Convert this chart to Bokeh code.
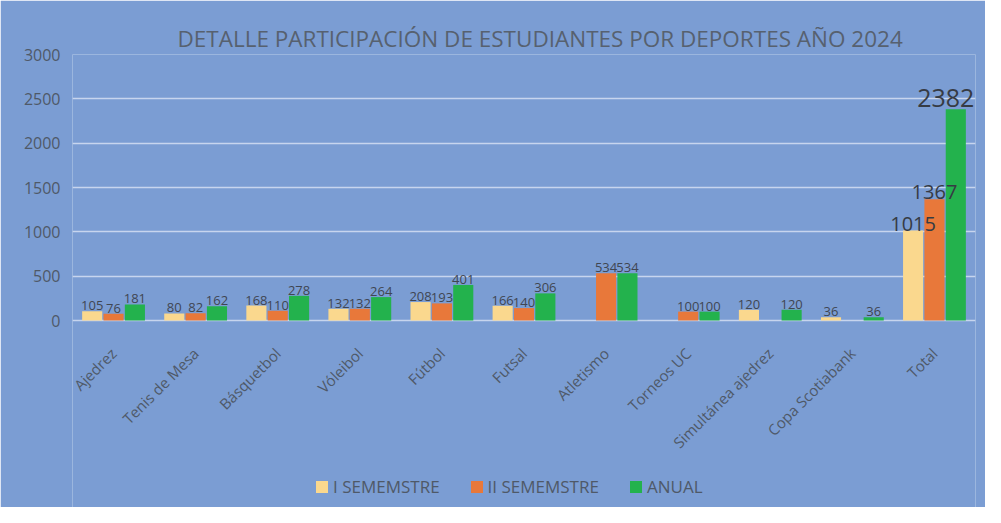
import math
from bokeh.plotting import figure
from bokeh.models import (ColumnDataSource, FactorRange, Legend, LegendItem, Range1d, FixedTicker)
from bokeh.transform import dodge
from bokeh.embed import file_html
from bokeh.resources import INLINE
from bokeh.core.properties import value

# ---- data ----
categories = ["Ajedrez", "Tenis de Mesa", "Básquetbol", "Vóleibol", "Fútbol", "Futsal",
              "Atletismo", "Torneos UC", "Simultánea ajedrez", "Copa Scotiabank", "Total"]
sem1 = [105, 80, 168, 132, 208, 166, None, None, 120, 36, 1015]
sem2 = [76, 82, 110, 132, 193, 140, 534, 100, None, None, 1367]
anual = [181, 162, 278, 264, 401, 306, 534, 100, 120, 36, 2382]
series_names = ["I SEMEMSTRE", "II SEMEMSTRE", "ANUAL"]
title_text = "DETALLE PARTICIPACIÓN DE ESTUDIANTES POR DEPORTES AÑO 2024"
y_ticks = [0, 500, 1000, 1500, 2000, 2500, 3000]
y_max = 3000

# ---- styles / layout ----
colors = ["#fad88e", "#e8783a", "#23b24d"]
offsets = [-0.26, 0.0, 0.26]
bar_width = 0.245
total_label_sizes = ["20px", "20px", "25px"]
total_label_xoff = [0, 0, -10]
total_label_yoff = [0, 0, -2]
y_bottom_space = -2109   # empty room under the baseline for the axis labels and legend
bg = "#7b9dd3"
text_col = "#4f5968"
font = "Open Sans"

p = figure(x_range=FactorRange(*categories, range_padding=0),
           y_range=Range1d(y_bottom_space, y_max),
           width=985, height=507, output_backend="svg", toolbar_location=None,
           min_border_left=72, min_border_right=10, min_border_top=54, min_border_bottom=0)
p.background_fill_color = bg
p.border_fill_color = bg
p.outline_line_color = None

p.title.text = title_text
p.title.text_font = font
p.title.text_font_size = "22.5px"
p.title.text_font_style = "normal"
p.title.text_color = "#57616f"
p.title.align = "left"
p.title.offset = 105
p.title.standoff = 2

renderers = []
parts = []
for i, vals in enumerate([sem1, sem2, anual]):
    xs = [c for c, v in zip(categories, vals) if v is not None]
    ys = [v for v in vals if v is not None]
    src = ColumnDataSource(dict(x=xs, top=ys))
    r = p.vbar(x=dodge("x", offsets[i], range=p.x_range), top="top", bottom=0, width=bar_width,
               source=src, fill_color=colors[i], line_color=None)
    renderers.append(r)
    parts.append((xs, ys))

for i, (xs, ys) in enumerate(parts):
    main = ColumnDataSource(dict(x=xs[:-1], y=ys[:-1], label=[str(v) for v in ys[:-1]]))
    tot = ColumnDataSource(dict(x=xs[-1:], y=ys[-1:], label=[str(v) for v in ys[-1:]]))
    p.text(x=dodge("x", offsets[i], range=p.x_range), y="y", text="label", source=main,
           text_align="center", text_baseline="bottom", y_offset=-1,
           text_font=value(font), text_font_size="13px", text_color="#404652")
    p.text(x=dodge("x", offsets[i], range=p.x_range), y="y", text="label", source=tot,
           text_align="center", text_baseline="bottom",
           x_offset=total_label_xoff[i], y_offset=total_label_yoff[i],
           text_font=value(font), text_font_size=total_label_sizes[i], text_color="#363b44")

p.yaxis.ticker = FixedTicker(ticks=y_ticks)
p.yaxis.axis_line_color = None
p.yaxis.major_tick_line_color = None
p.yaxis.major_tick_out = 0
p.yaxis.minor_tick_line_color = None
p.yaxis.major_label_standoff = 12
p.yaxis.major_label_text_font = font
p.yaxis.major_label_text_font_size = "16px"
p.yaxis.major_label_text_color = text_col

p.xaxis.fixed_location = 0
p.xaxis.axis_line_color = None
p.xaxis.major_tick_line_color = None
p.xaxis.major_tick_out = 0
p.xaxis.major_label_orientation = math.pi / 4
p.xaxis.major_label_standoff = 30
p.xaxis.major_label_text_font = font
p.xaxis.major_label_text_font_size = "15px"
p.xaxis.major_label_text_color = text_col

p.xgrid.grid_line_color = None
p.ygrid.ticker = FixedTicker(ticks=y_ticks)
p.ygrid.grid_line_color = "#c7d5ee"
p.ygrid.grid_line_width = 1.5

legend = Legend(items=[LegendItem(label=n, renderers=[r]) for n, r in zip(series_names, renderers)],
                orientation="horizontal", location=(242, 9))
legend.glyph_width = 15
legend.glyph_height = 15
legend.label_standoff = 4
legend.spacing = 29
legend.padding = 0
legend.margin = 0
legend.label_text_font = font
legend.label_text_font_size = "17px"
legend.label_text_color = text_col
legend.background_fill_alpha = 0
legend.border_line_color = None
p.add_layout(legend, "center")

open("out.html", "w").write(file_html(p, INLINE))
